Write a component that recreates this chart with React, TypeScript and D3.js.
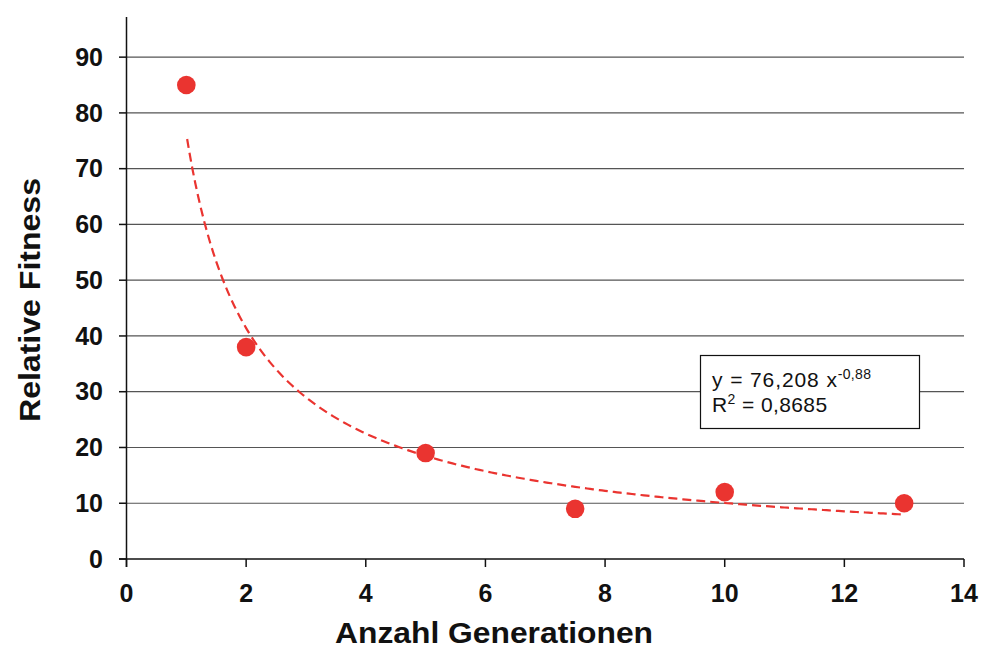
import React from "react";
import * as d3 from "d3";

const generations = [1, 2, 5, 7.5, 10, 13];
const fitness = [85, 38, 19, 9, 12, 10];
const xTicks = [0, 2, 4, 6, 8, 10, 12, 14];
const yTicks = [0, 10, 20, 30, 40, 50, 60, 70, 80, 90];
const trendA = 76.208;
const trendB = -0.88;
const eqText = "y = 76,208 x";
const eqExp = "-0,88";
const r2Text = " = 0,8685";

const W = 993;
const H = 648;
const FONT = "'Liberation Sans', Arial, Helvetica, sans-serif";
const RED = "#ea3430";

export default function App() {
  const x = d3.scaleLinear().domain([0, 14]).range([126.5, 964]);
  const y = d3.scaleLinear().domain([0, 97.2]).range([559, 17]);

  const trendX = d3.range(1, 13.001, 0.05);
  const line = d3
    .line<number>()
    .x((d) => x(d))
    .y((d) => y(trendA * Math.pow(d, trendB)));

  return (
    <svg
      width={W}
      height={H}
      style={{ position: "absolute", left: 0, top: 0, background: "#fff" }}
      fontFamily={FONT}
    >
      {yTicks
        .filter((t) => t > 0)
        .map((t) => (
          <line key={"g" + t} x1={x(0)} x2={x(14)} y1={y(t)} y2={y(t)} stroke="#555" strokeWidth={1.2} />
        ))}
      {yTicks.map((t) => (
        <line key={"yt" + t} x1={119} x2={x(0)} y1={y(t)} y2={y(t)} stroke="#111" strokeWidth={1.5} />
      ))}
      {xTicks.map((t) => (
        <line key={"xt" + t} x1={x(t)} x2={x(t)} y1={y(0)} y2={y(0) + 8} stroke="#111" strokeWidth={1.5} />
      ))}
      <line x1={x(0)} x2={x(0)} y1={y(97.2)} y2={y(0) + 8} stroke="#111" strokeWidth={1.5} />
      <line x1={119} x2={x(14)} y1={y(0)} y2={y(0)} stroke="#111" strokeWidth={1.5} />
      {yTicks.map((t) => (
        <text key={"yl" + t} x={103} y={y(t)} dy="0.35em" textAnchor="end" fontSize={25} fontWeight="bold" fill="#111">
          {t}
        </text>
      ))}
      {xTicks.map((t) => (
        <text key={"xl" + t} x={x(t)} y={602} textAnchor="middle" fontSize={25} fontWeight="bold" fill="#111">
          {t}
        </text>
      ))}
      <text
        x={494}
        y={643}
        textAnchor="middle"
        fontSize={29}
        fontWeight="bold"
        fill="#111"
        textLength={318}
        lengthAdjust="spacingAndGlyphs"
      >
        Anzahl Generationen
      </text>
      <text
        transform={`translate(40,300) rotate(-90)`}
        textAnchor="middle"
        fontSize={30}
        fontWeight="bold"
        fill="#111"
        textLength={244}
        lengthAdjust="spacingAndGlyphs"
      >
        Relative Fitness
      </text>
      <path
        d={line(trendX) || ""}
        fill="none"
        stroke={RED}
        strokeWidth={2.2}
        strokeDasharray="9,5"
        strokeDashoffset={9}
      />
      {generations.map((g, i) => (
        <circle key={"p" + i} cx={x(g)} cy={y(fitness[i])} r={9.3} fill={RED} />
      ))}
      <rect x={700.5} y={355.5} width={219} height={73} fill="#fff" stroke="#111" strokeWidth={1.2} />
      <text x={712} y={387} fontSize={21} fill="#111" letterSpacing={0.9}>
        {eqText}
        <tspan dy={-8} fontSize={14} letterSpacing={0.3}>{eqExp}</tspan>
      </text>
      <text x={712} y={412} fontSize={21} fill="#111" letterSpacing={0.4}>
        R<tspan dy={-8} fontSize={14}>2</tspan>
        <tspan dy={8}>{r2Text}</tspan>
      </text>
    </svg>
  );
}
